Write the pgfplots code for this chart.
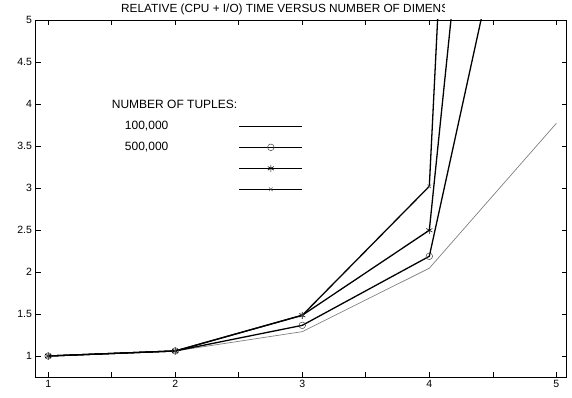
\documentclass[border=0pt]{standalone}
\usepackage{fontspec}
\setmainfont{Liberation Sans}
\usepackage{pgfplots}
\pgfplotsset{compat=1.18}
\begin{document}
\begin{tikzpicture}
\begin{axis}[
  at={(0pt,0pt)}, anchor=south west,
  scale only axis, width=531pt, height=357pt,
  xmin=0.9, xmax=5.08, ymin=0.75, ymax=5,
  xtick={1,2,3,4,5}, minor xtick={1.5,2.5,3.5,4.5},
  ytick={1,1.5,2,2.5,3,3.5,4,4.5,5},
  tick align=inside, major tick length=5pt, minor tick length=5pt,
  tick style={black, line width=0.6pt},
  axis line style={line width=0.8pt},
  ticklabel style={font=\fontsize{10.5}{12}\selectfont},
  /pgf/number format/assume math mode=true,
  yticklabel style={/pgf/number format/fixed},
  legend plot pos=right,
  legend cell align=left,
  legend image code/.code={\draw[mark repeat=2,mark phase=2,#1] plot coordinates {(0pt,0pt) (31.5pt,0pt) (63pt,0pt)};},
  legend style={draw=none, fill=none, at={(axis description cs:0.1685,0.7176)}, anchor=north west,
    inner sep=0pt, outer sep=0pt, row sep=10pt, column sep=0pt,
    nodes={inner sep=0pt, font=\fontsize{12}{14}\selectfont, text height=8.5pt, text depth=2.5pt}},
]
\addlegendimage{black, line width=0.7pt}
\addlegendentry{\makebox[114pt][l]{100,000}}
\addlegendimage{black, line width=0.7pt, mark=o, mark size=3.3pt, mark options={solid, line width=0.5pt, black!75}}
\addlegendentry{\makebox[114pt][l]{500,000}}
\addlegendimage{black, line width=0.7pt, mark=asterisk, mark size=3.5pt, mark options={solid, line width=0.6pt, black}}
\addlegendentry{\mbox{}}
\addlegendimage{black, line width=0.7pt, mark=x, mark size=2.5pt, mark options={solid, line width=0.5pt, black!70}}
\addlegendentry{\mbox{}}

% thin gray series
\addplot[forget plot, black!50, line width=0.7pt] coordinates {(1,1) (2,1.06) (3,1.29) (4,2.045) (5,3.77)};
% circle series
\addplot[forget plot, black, line width=1.3pt, mark=o, mark size=3.3pt, mark options={solid, line width=0.5pt, black!75}]
  coordinates {(1,1) (2,1.06) (3,1.365) (4,2.187) (5,9.1)};
% asterisk series
\addplot[forget plot, black, line width=1.3pt, mark=asterisk, mark size=3.5pt, mark options={solid, line width=0.6pt, black}]
  coordinates {(1,1) (2,1.06) (3,1.485) (4,2.497) (5,17.2)};
% x series
\addplot[forget plot, black, line width=1.3pt, mark=x, mark size=2.5pt, mark options={solid, line width=0.5pt, black!70}]
  coordinates {(1,1) (2,1.06) (3,1.485) (4,3.02) (5,33.4)};

\node[anchor=base west, inner sep=0pt, font=\fontsize{12}{14}\selectfont] at (axis description cs:0.1435,0.7507) {NUMBER OF TUPLES:};
\end{axis}
\begin{scope}
  \clip (80pt,355pt) rectangle (408.5pt,377pt);
  \node[anchor=base west, inner sep=0pt, font=\fontsize{11.8}{14}\selectfont] at (85.5pt,364.6pt) {RELATIVE (CPU + I/O) TIME VERSUS NUMBER OF DIMENSIONS};
\end{scope}
\path (-35.5pt,-20pt) rectangle (536.5pt,377pt);
\end{tikzpicture}
\end{document}
